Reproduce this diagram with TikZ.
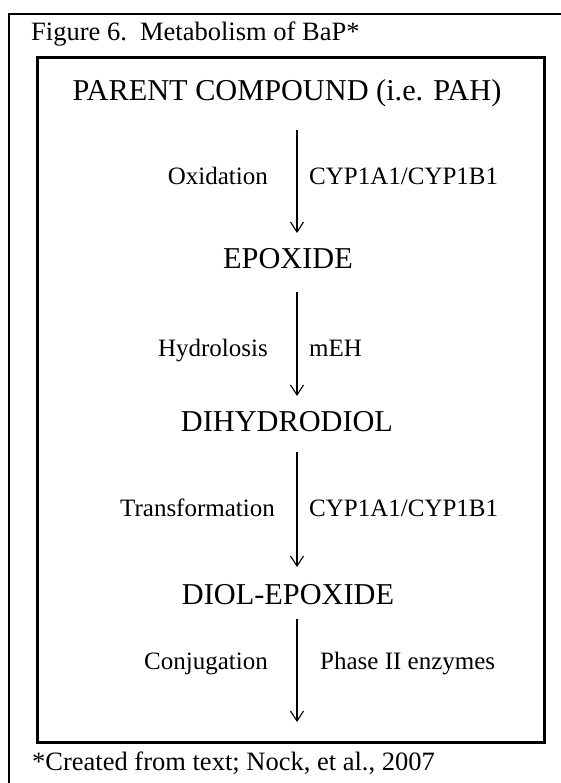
\documentclass[tikz,border=0pt]{standalone}
\usepackage{fontspec}
\setmainfont{Liberation Serif}
\usetikzlibrary{arrows.meta}
\begin{document}
\begin{tikzpicture}[x=1pt,y=-1pt,
  mainnode/.style={font=\fontsize{30.3}{36}\selectfont, inner sep=0pt, anchor=base},
  lbl/.style={font=\fontsize{25}{30}\selectfont, inner sep=0pt},
  notetext/.style={font=\fontsize{26.5}{31}\selectfont, inner sep=0pt, anchor=base west},
  leftlbl/.style={lbl, anchor=base east},
  rightlbl/.style={lbl, anchor=base west},
  flow/.style={line width=1.1pt, -{Straight Barb[length=10pt,width=13pt,line width=1.1pt]}},
]
\useasboundingbox (0,0) rectangle (560,783);
\fill[white] (0,0) rectangle (560,783);
% outer frame
\draw[line width=2pt] (9,14) rectangle (580,800);
% inner box
\draw[line width=3pt] (37,58) rectangle (544,742);
% caption and footnote
\node[notetext] (caption) at (31,41) {Figure 6.\ \ Metabolism of BaP*};
\node[notetext] (footnote) at (32,770) {*Created from text; Nock, et al., 2007};
% main compounds
\node[mainnode] (parent) at (287,101) {PARENT COMPOUND (i.e. PAH)};
\node[mainnode] (epoxide) at (288,269) {EPOXIDE};
\node[mainnode] (dihydrodiol) at (287,431) {DIHYDRODIOL};
\node[mainnode] (diolepoxide) at (288,604) {DIOL-EPOXIDE};
% arrow end points
\coordinate (a1s) at (297,130);
\coordinate (a1e) at (297,233);
\coordinate (a2s) at (297,292);
\coordinate (a2e) at (297,396);
\coordinate (a3s) at (297,452);
\coordinate (a3e) at (297,567);
\coordinate (a4s) at (297,619);
\coordinate (a4e) at (297,722);
\draw[flow] (a1s) -- (a1e);
\draw[flow] (a2s) -- (a2e);
\draw[flow] (a3s) -- (a3e);
\draw[flow] (a4s) -- (a4e);
% labels
\node[leftlbl] (l1) at (268,185) {Oxidation};
\node[rightlbl] (r1) at (309,185) {CYP1A1/CYP1B1};
\node[leftlbl] (l2) at (268,356) {Hydrolosis};
\node[rightlbl] (r2) at (309,356) {mEH};
\node[leftlbl] (l3) at (275,516) {Transformation};
\node[rightlbl] (r3) at (309,516) {CYP1A1/CYP1B1};
\node[leftlbl] (l4) at (268,669) {Conjugation};
\node[rightlbl] (r4) at (320,669) {Phase II enzymes};
\end{tikzpicture}
\end{document}
